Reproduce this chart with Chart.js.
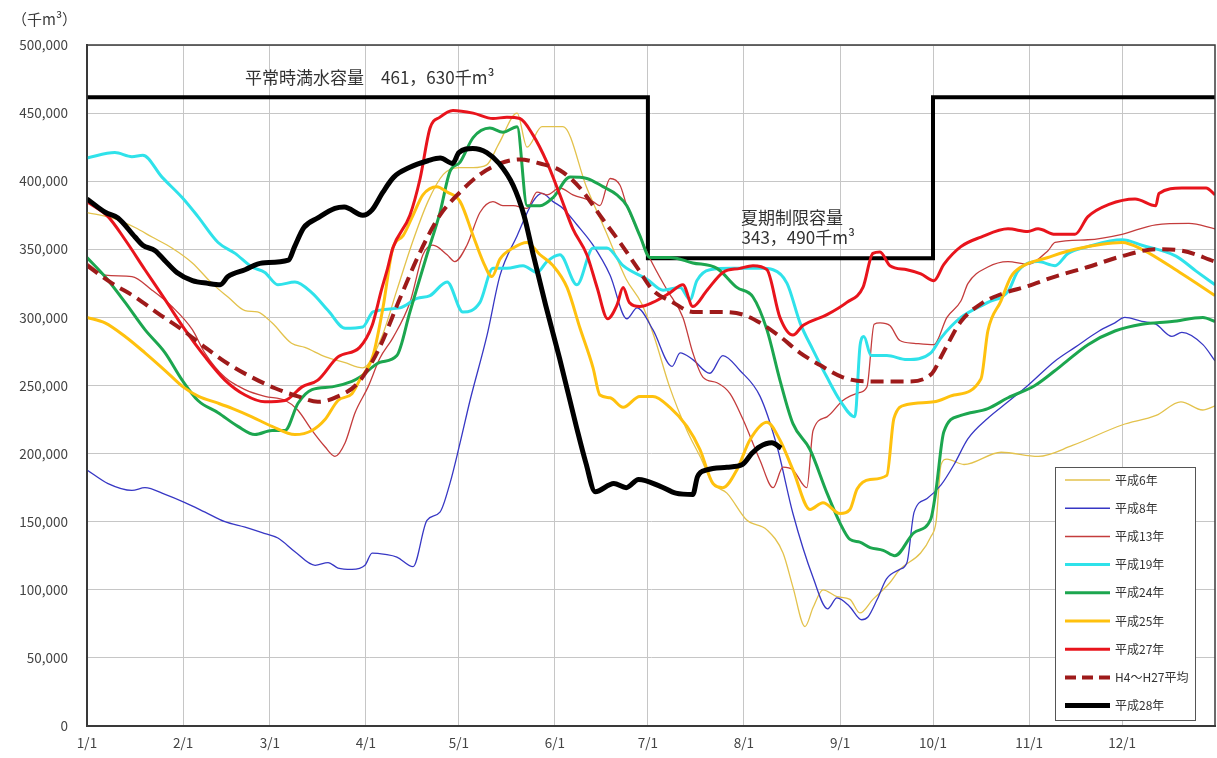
<!DOCTYPE html>
<html><head><meta charset="utf-8">
<script src="https://cdn.jsdelivr.net/npm/chart.js@4.4.1/dist/chart.umd.min.js"></script>
<style>html,body{margin:0;padding:0;background:#fff;overflow:hidden}#wrap{width:1217px;height:758px;position:relative}</style>
</head><body><div id="wrap"><canvas id="c" width="1217" height="758"></canvas></div>
<script>
// ---- axis data ----
const monthStarts = [0,31,59,90,120,151,181,212,243,273,304,334];
const monthLabels = ['1/1','2/1','3/1','4/1','5/1','6/1','7/1','8/1','9/1','10/1','11/1','12/1'];
const yMin = 0, yMax = 500000, yStep = 50000;
const yUnitLabel = '（千m³）';

// ---- capacity line (千m³) ----
const capDays   = [0, 181, 181, 273, 273, 364];
const capValues = [461630, 461630, 343490, 343490, 461630, 461630];
const capNormalText = '平常時満水容量　461，630千m³';
const capSummerText1 = '夏期制限容量';
const capSummerText2 = '343，490千m³';

// ---- 平成6年 ----
const h6Days = [0,8,15.5,21,27.4,34,40.3,45.5,51,55,59.7,66,70.3,77,83,89,95,100,105,110,115,120,124.6,129,133,138.8,142,146.8,153.6,161.3,168,174,179,183,188,193.6,197.8,202,206.5,213,219.4,224.6,227.8,231.7,234.3,237.5,242,246.2,249.4,253.6,259,262.3,269,272.3,274,275.6,277.5,283,295,307,318,334,345,353,360,364];
const h6Values = [377000,373000,366000,359000,351000,340000,325000,315000,305000,304000,296000,281000,278000,271000,267000,263000,285000,320000,355000,385000,405000,410000,410000,412000,428000,450000,425000,440000,440000,395000,360000,328000,310000,286000,249000,217000,198000,178000,171000,151000,144000,127000,102000,73000,87000,100000,95000,93000,83000,93000,105000,115000,127000,139000,150000,192000,196000,192000,201000,198000,206000,221000,228000,238000,232000,235000];

// ---- 平成8年 ----
const h8Days = [0,6.8,14.5,18.7,25.2,31.6,38.1,44.5,51,56.5,61.6,67.1,73.6,77.8,81,85.5,89.7,92,96.2,100,105.2,109.7,113.9,117.1,120.4,123.6,129.1,133.3,138.8,143.9,146.8,150.4,153.6,158.1,163.3,168.8,174.2,177.5,182.6,188.8,191.4,195.5,201,205.2,210.7,217.2,222.7,227.8,234.3,239,242,246,250,252,255,258,262.3,264.6,266.9,271.1,275.6,279.8,284.3,290.7,297.2,303.6,312.4,318.8,326.6,331.7,334.9,340.4,344.9,350.1,353.3,360.1,364];
const h8Values = [188000,178000,173000,175000,170000,164000,157000,150000,146000,142000,138000,128000,118000,120000,116000,115000,118000,127000,126000,124000,117000,151000,157000,178000,208000,239000,287000,331000,360000,385000,391000,385000,380000,368000,353000,331000,299000,307000,291000,264000,274000,269000,259000,272000,261000,242000,205000,156000,109000,86000,94000,88000,78000,80000,93000,108000,115000,120000,157000,167000,177000,192000,211000,226000,238000,250000,268000,278000,290000,296000,300000,297000,295000,286000,289000,280000,268000];

// ---- 平成13年 ----
const h13Days = [0,6,14.5,21,27.4,34,38,44.5,51,57.4,64,68,72.6,76.8,80,83.3,86.5,90.7,94.5,98.7,104.2,108.4,111.6,116.2,118.7,122.6,126.8,131,134.2,137.5,142,145.2,148.4,152.6,156.8,163.3,165.5,168.8,172,174.2,178.4,181.7,187.2,192.3,195.5,198.8,203.3,207.5,211.7,217.2,221.4,224.6,227.8,232.3,234.3,238.8,243.9,249.4,251.7,254,255.9,259.1,262.3,266.9,273.3,277.5,282,284.3,290.7,297.2,303.6,310.1,312.4,323,334,344.9,355.6,364];
const h13Values = [340000,331000,330000,320000,308000,291000,274000,256000,247000,242000,239000,232000,217000,205000,198000,208000,230000,249000,270000,285000,311000,346000,353000,346000,341000,353000,377000,385000,382000,382000,380000,392000,390000,395000,390000,385000,382000,402000,397000,382000,360000,343000,320000,300000,274000,256000,252000,244000,225000,195000,175000,190000,188000,175000,217000,227000,239000,245000,249000,295000,296000,294000,283000,281000,280000,300000,312000,325000,337000,341000,339000,349000,355000,357000,361000,368000,369000,365000];

// ---- 平成19年 ----
const h19Days = [0,9,14.5,18,24.2,30.7,35.8,42.3,47.8,53.2,57.4,61.6,67.1,72.6,77.8,83.3,89,92.3,101,106.5,110.7,116.2,121.3,126.8,131,135.5,140.7,145.2,148.4,152.6,158.1,163.3,167.8,173,180.7,185.9,191.4,194.6,196.8,201,208.5,217.2,221.4,225.9,230.1,234.3,238.8,243,247.8,249.5,250.7,253,258.1,264.6,272.3,275.6,282,290.7,297.2,300.4,306.9,312.4,316.6,323,334,340.4,351.4,357.9,364];
const h19Values = [417000,421000,418000,419000,403000,388000,374000,355000,347000,337000,333000,324000,326000,318000,305000,292000,293000,304000,307000,314000,316000,326000,304000,311000,336000,336000,338000,333000,341000,346000,324000,351000,351000,338000,328000,320000,322000,313000,327000,335000,336000,336000,335000,325000,296000,276000,256000,239000,227000,280000,286000,272000,272000,269000,274000,285000,300000,311000,319000,334000,341000,338000,347000,352000,357000,353000,345000,334000,324000];

// ---- 平成24年 ----
const h24Days = [0,5.8,12.3,18.7,25.2,30.7,35.8,42.3,48.7,54.2,59.7,63.9,68.1,72.6,79.1,85.5,88,94.5,100,104.2,109.7,113.9,117.1,120.4,124.6,130,134.2,138.8,142,146.2,150.4,155.9,161.3,166.5,171,174.2,178.4,181.7,188.1,195.5,203.3,209.7,214.9,219.4,223.6,227.8,233.3,238.8,243,246.2,249.4,252.7,256.9,260.7,266.9,272.3,273.9,276.5,282,290.7,297.2,305.9,314.6,323,331.7,340.4,350.1,360.1,364];
const h24Values = [344000,330000,311000,291000,274000,254000,239000,230000,220000,214000,217000,217000,237000,247000,249000,253000,256000,267000,272000,304000,346000,377000,407000,414000,432000,439000,436000,440000,382000,382000,388000,403000,402000,396000,390000,382000,360000,344000,344000,340000,336000,322000,315000,291000,254000,222000,203000,171000,149000,137000,135000,131000,129000,125000,142000,152000,172000,216000,228000,233000,241000,250000,265000,280000,290000,295000,297000,300000,297000];

// ---- 平成25年 ----
const h25Days = [0,5.8,12.3,18.7,25.2,31,36,42.3,47,53.2,59.7,67.1,72.6,76.8,81,85.5,88,92.3,95.5,98.7,102,105.2,108.4,112.9,116.2,120.4,124.6,127.8,130.7,133.3,137.5,142,146.2,150.4,154.9,159.1,163.3,165.5,168.8,173,178.4,182.6,188.1,193.6,197.8,202,205.2,209.7,213.9,219.4,223.6,227.8,233.3,237.5,243,246.2,248.5,252.7,258.1,260.4,264.6,273.3,279.8,288.5,290.7,294.9,298.2,301.4,310.1,318.8,334,340.4,353.3,364];
const h25Values = [300000,296000,286000,274000,261000,249000,242000,237000,233000,227000,220000,214000,217000,225000,239000,244000,254000,272000,307000,351000,360000,375000,390000,396000,392000,385000,360000,341000,330000,343000,351000,355000,346000,338000,322000,292000,263000,243000,241000,234000,242000,242000,234000,220000,203000,178000,175000,188000,210000,223000,210000,188000,159000,164000,156000,159000,174000,181000,184000,226000,236000,238000,243000,255000,290000,312000,330000,337000,344000,350000,355000,350000,332000,316000];

// ---- 平成27年 ----
const h27Days = [0,6.8,12.3,18.7,25.2,31.6,38.1,44.5,51,57.4,63.9,69.4,74.5,81,88,92,95,97,98.7,104.2,107.5,110.7,113.9,118.1,124.6,131,135.5,139.7,143.9,148.4,152.6,156.8,161.3,164.6,168,171,173,175,178.4,182.6,188.1,192.3,195.5,200.1,205.2,210.7,214.9,219.4,223.6,227.8,231,238.8,245.2,250.4,253.6,255.9,259.1,264.6,269.1,273.3,276.5,282,288.5,297.2,303.6,306.9,312.4,318.8,323,329.8,338.2,344.9,345.9,353.3,361.1,364];
const h27Values = [385000,374000,357000,335000,313000,291000,271000,254000,243000,238000,239000,249000,254000,271000,278000,294000,320000,336000,351000,375000,402000,439000,447000,452000,450000,446000,447000,446000,434000,414000,390000,365000,346000,322000,299000,309000,322000,311000,308000,311000,318000,324000,308000,320000,333000,336000,338000,335000,300000,287000,294000,302000,311000,322000,347000,348000,338000,335000,332000,327000,339000,352000,359000,365000,363000,365000,361000,361000,374000,383000,387000,382000,391000,395000,395000,390000];

// ---- H4～H27平均 ----
const avgDays = [0,8.1,15.5,22.9,30.7,38.1,45.5,53.2,60.7,68.1,74.5,81,87.5,94,101,107.5,113.9,120.4,126.8,133.3,139.7,146.2,152.6,159.1,165.5,172,178,182.6,189.1,195.5,204.3,211.7,217.2,223.6,230.1,236.5,243.9,251.7,259.1,264.6,272.3,276.5,282,288.5,294.9,303.6,312.4,323,334,344.9,353.3,364];
const avgValues = [338000,325000,315000,303000,291000,278000,266000,256000,248000,242000,238000,242000,252000,276000,314000,348000,375000,392000,405000,413000,416000,413000,408000,395000,375000,355000,335000,320000,311000,304000,304000,302000,296000,286000,274000,265000,256000,253000,253000,253000,258000,275000,297000,310000,317000,323000,330000,337000,345000,350000,349000,341000];

// ---- 平成28年 ----
const h28Days = [0,6,10,15.5,18,22,25,29,34,39,43,45.5,51,56.5,65,67,70,74.5,80,83,89,92,95.5,99,104,110,114,118,120,124.5,129,133,137.5,141,144,148,152.5,158,161,164,170,174,178,185,190,195.5,197,200,206.5,211.5,214.5,217,221,224];
const h28Values = [387000,377000,373000,359000,353000,349000,342000,333000,327000,325000,324000,330000,335000,340000,342000,352000,366000,373000,380000,381000,375000,379000,392000,403000,410000,415000,417000,413000,421000,424000,421000,413000,397000,375000,346000,309000,270000,219000,193000,172000,178000,175000,181000,176000,171000,170000,183000,188000,190000,192000,200000,205000,208000,204000];

const FONT = '"Noto Sans CJK JP","Noto Sans",sans-serif';
function pts(d, v) { return d.map((x, i) => ({ x: x, y: v[i] })); }

const series = [
  { label: '平成6年',  days: h6Days,  vals: h6Values,  color: '#E3C24C', width: 1.3, order: 9 },
  { label: '平成8年',  days: h8Days,  vals: h8Values,  color: '#3737C4', width: 1.3, order: 8 },
  { label: '平成13年', days: h13Days, vals: h13Values, color: '#C43C3C', width: 1.3, order: 7 },
  { label: '平成19年', days: h19Days, vals: h19Values, color: '#2FE2EA', width: 3,   order: 6 },
  { label: '平成24年', days: h24Days, vals: h24Values, color: '#1CA64F', width: 3,   order: 5 },
  { label: '平成25年', days: h25Days, vals: h25Values, color: '#FFC10E', width: 3,   order: 4 },
  { label: '平成27年', days: h27Days, vals: h27Values, color: '#E8141C', width: 3,   order: 3 },
  { label: 'H4～H27平均', days: avgDays, vals: avgValues, color: '#9E1A1A', width: 4, dash: [13, 7], order: 2 },
  { label: '平成28年', days: h28Days, vals: h28Values, color: '#000000', width: 5,   order: 1 }
];

const datasets = series.map(s => ({
  label: s.label,
  data: pts(s.days, s.vals),
  borderColor: s.color,
  backgroundColor: s.color,
  borderWidth: s.width,
  borderDash: s.dash || [],
  pointRadius: 0,
  fill: false,
  cubicInterpolationMode: 'monotone',
  order: s.order
}));
datasets.push({
  label: '容量',
  data: pts(capDays, capValues),
  borderColor: '#000',
  borderWidth: 4,
  pointRadius: 0,
  fill: false,
  tension: 0,
  order: 10
});

const framePlugin = {
  id: 'frame',
  afterDraw(chart) {
    const { ctx, chartArea: a } = chart;
    ctx.save();
    ctx.strokeStyle = '#3a3a3a';
    ctx.lineWidth = 1.5;
    ctx.strokeRect(a.left, a.top, a.right - a.left, a.bottom - a.top);
    ctx.restore();
  }
};

const textPlugin = {
  id: 'texts',
  afterDraw(chart) {
    const { ctx } = chart;
    const xs = chart.scales.x, ys = chart.scales.y;
    ctx.save();
    ctx.fillStyle = '#3a3a3a';
    ctx.font = '15px ' + FONT;
    ctx.textBaseline = 'middle';
    ctx.textAlign = 'left';
    ctx.fillText(yUnitLabel, 12, 19);
    ctx.font = '17px ' + FONT;
    ctx.fillStyle = '#333';
    ctx.textAlign = 'left';
    ctx.fillText(capNormalText, xs.getPixelForValue(51), ys.getPixelForValue(476000));
    ctx.textAlign = 'center';
    ctx.fillText(capSummerText1, xs.getPixelForValue(227.5), ys.getPixelForValue(373500));
    ctx.fillText(capSummerText2, xs.getPixelForValue(229.5), ys.getPixelForValue(358500));
    ctx.restore();
  }
};

const legendPlugin = {
  id: 'boxLegend',
  afterDraw(chart) {
    const { ctx, chartArea: a } = chart;
    const w = 140, h = 253;
    const x0 = a.right - 20 - w, y0 = a.bottom - 6 - h;
    ctx.save();
    ctx.fillStyle = '#fff';
    ctx.fillRect(x0, y0, w, h);
    ctx.strokeStyle = '#555';
    ctx.lineWidth = 1;
    ctx.strokeRect(x0 + 0.5, y0 + 0.5, w, h);
    ctx.font = '12px ' + FONT;
    ctx.textBaseline = 'middle';
    ctx.textAlign = 'left';
    series.forEach((s, i) => {
      const yy = y0 + 13 + i * 28.2;
      ctx.beginPath();
      ctx.strokeStyle = s.color;
      ctx.lineWidth = Math.max(s.width, 1.5);
      ctx.setLineDash(s.dash ? [11, 6] : []);
      ctx.moveTo(x0 + 10, yy);
      ctx.lineTo(x0 + 55, yy);
      ctx.stroke();
      ctx.setLineDash([]);
      ctx.fillStyle = '#333';
      ctx.fillText(s.label, x0 + 60, yy);
    });
    ctx.restore();
  }
};

new Chart(document.getElementById('c'), {
  type: 'line',
  data: { datasets: datasets },
  options: {
    responsive: false,
    animation: false,
    devicePixelRatio: 1,
    layout: { padding: { top: 45, right: 2, left: 0, bottom: 0 } },
    plugins: { legend: { display: false }, tooltip: { enabled: false }, title: { display: false } },
    scales: {
      x: {
        type: 'linear',
        min: 0,
        max: 364,
        afterBuildTicks(axis) { axis.ticks = monthStarts.map(v => ({ value: v })); },
        afterFit(scale) { scale.height = 32; },
        grid: { color: '#c6c6c6', lineWidth: 1, drawTicks: false },
        border: { display: true, color: '#3a3a3a', width: 2 },
        ticks: {
          autoSkip: false, maxRotation: 0, padding: 9,
          color: '#444', font: { family: FONT, size: 13.5 },
          callback(v) { const i = monthStarts.indexOf(v); return i >= 0 ? monthLabels[i] : ''; }
        }
      },
      y: {
        min: yMin,
        max: yMax,
        afterFit(scale) { scale.width = 87; },
        grid: { color: '#c6c6c6', lineWidth: 1, drawTicks: false },
        border: { display: true, color: '#3a3a3a', width: 2 },
        ticks: {
          stepSize: yStep, padding: 19,
          color: '#444', font: { family: FONT, size: 13.5 },
          callback(v) { return v.toLocaleString('en-US'); }
        }
      }
    }
  },
  plugins: [framePlugin, textPlugin, legendPlugin]
});
</script>
</body></html>
